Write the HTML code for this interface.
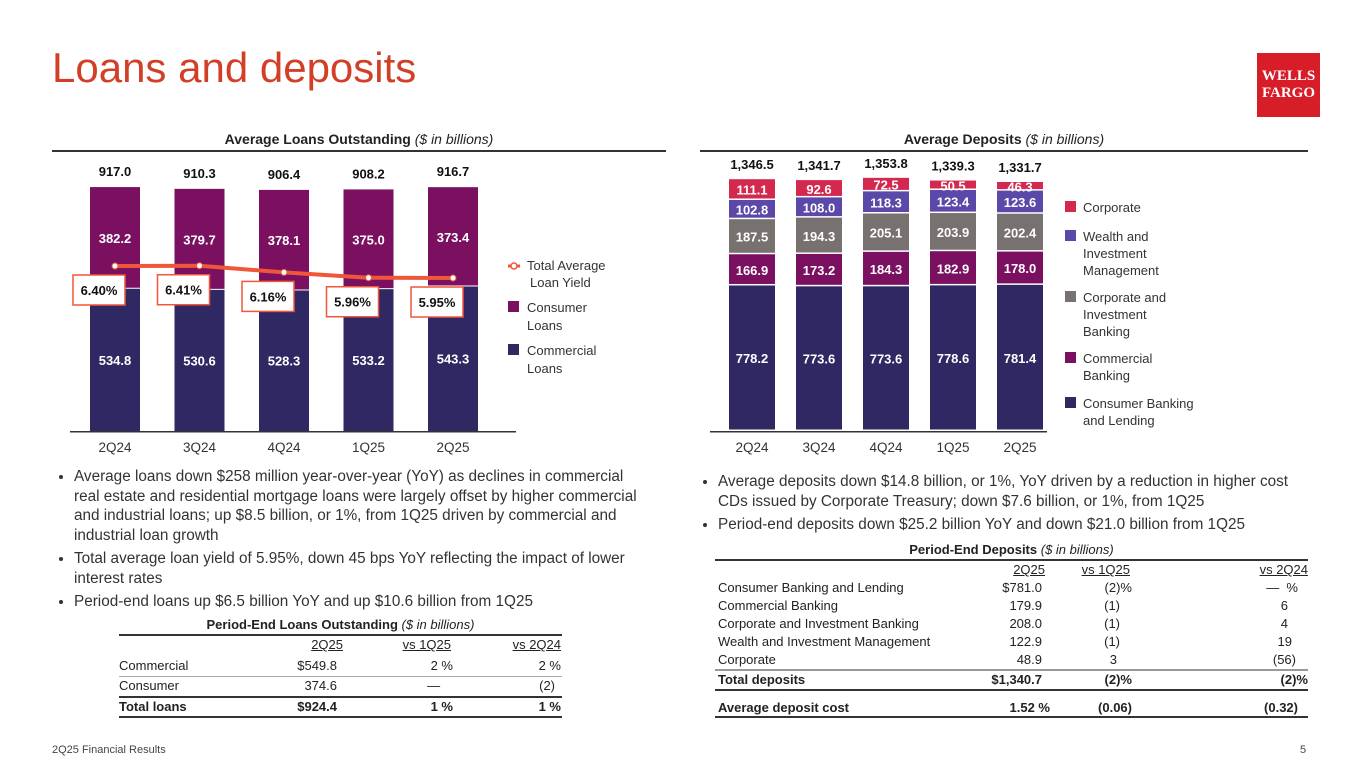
<!DOCTYPE html>
<html><head><meta charset="utf-8">
<style>
body{margin:0;width:1365px;height:768px;background:#fff;position:relative;overflow:hidden;font-family:"Liberation Sans",sans-serif;color:#222}
.a{position:absolute;white-space:nowrap}
.r{text-align:right}
.b{font-weight:bold}
.c{text-align:center}
.ln{position:absolute;background:#333}
.bul{position:absolute;font-size:15.3px;line-height:19.5px;color:#333;white-space:nowrap}
.bul li{margin:0 0 4px 0;padding-left:0}
.bul ul{margin:0;padding-left:18px}
.t{font-size:13px;color:#222}
</style></head><body>
<div class="a" style="left:52px;top:44px;font-size:42px;color:#d23f26">Loans and deposits</div>
<div class="a" style="left:1257px;top:53px;width:63px;height:64px;background:#d71e28;color:#fff;font-family:'Liberation Serif',serif;font-weight:bold;font-size:15px;line-height:17px;text-align:center;padding-top:15px;box-sizing:border-box">WELLS<br>FARGO</div>

<div class="a b c" style="left:52px;top:131px;width:614px;font-size:14px">Average Loans Outstanding <i style="font-weight:normal">($ in billions)</i></div>
<div class="ln" style="left:52px;top:150px;width:614px;height:2px"></div>
<div class="a b c" style="left:700px;top:131px;width:608px;font-size:14px">Average Deposits <i style="font-weight:normal">($ in billions)</i></div>
<div class="ln" style="left:700px;top:150px;width:608px;height:2px"></div>

<svg class="a" style="left:0;top:0" width="1365" height="768" id="svg"></svg>

<div class="bul" style="left:56px;top:467px;width:610px"><ul>
<li>Average loans down $258 million year-over-year (YoY) as declines in commercial<br>real estate and residential mortgage loans were largely offset by higher commercial<br>and industrial loans; up $8.5 billion, or 1%, from 1Q25 driven by commercial and<br>industrial loan growth</li>
<li>Total average loan yield of 5.95%, down 45 bps YoY reflecting the impact of lower<br>interest rates</li>
<li>Period-end loans up $6.5 billion YoY and up $10.6 billion from 1Q25</li></ul></div>
<div class="bul" style="left:700px;top:472px;width:620px"><ul>
<li>Average deposits down $14.8 billion, or 1%, YoY driven by a reduction in higher cost<br>CDs issued by Corporate Treasury; down $7.6 billion, or 1%, from 1Q25</li>
<li>Period-end deposits down $25.2 billion YoY and down $21.0 billion from 1Q25</li></ul></div>

<!-- Loans table -->
<div class="t">
<div class="a b c" style="left:119px;top:617px;width:443px">Period-End Loans Outstanding <i style="font-weight:normal">($ in billions)</i></div>
<div class="ln" style="left:119px;top:634px;width:443px;height:2px"></div>
<div class="a r" style="left:243px;top:637px;width:100px;text-decoration:underline">2Q25</div>
<div class="a r" style="left:351px;top:637px;width:100px;text-decoration:underline">vs 1Q25</div>
<div class="a r" style="left:461px;top:637px;width:100px;text-decoration:underline">vs 2Q24</div>
<div class="a" style="left:119px;top:658px">Commercial</div><div class="a r" style="left:237px;top:658px;width:100px">$549.8</div><div class="a r" style="left:353px;top:658px;width:100px">2 %</div><div class="a r" style="left:461px;top:658px;width:100px">2 %</div>
<div class="ln" style="left:119px;top:676px;width:443px;height:1px;background:#aaa"></div>
<div class="a" style="left:119px;top:678px">Consumer</div><div class="a r" style="left:237px;top:678px;width:100px">374.6</div><div class="a r" style="left:351px;top:678px;width:100px">— &nbsp;&nbsp;</div><div class="a r" style="left:455px;top:678px;width:100px">(2)</div>
<div class="ln" style="left:119px;top:696px;width:443px;height:2px"></div>
<div class="a b" style="left:119px;top:699px">Total loans</div><div class="a r b" style="left:237px;top:699px;width:100px">$924.4</div><div class="a r b" style="left:353px;top:699px;width:100px">1 %</div><div class="a r b" style="left:461px;top:699px;width:100px">1 %</div>
<div class="ln" style="left:119px;top:716px;width:443px;height:2px"></div>
</div>

<!-- Deposits table -->
<div class="t">
<div class="a b c" style="left:715px;top:542px;width:593px">Period-End Deposits <i style="font-weight:normal">($ in billions)</i></div>
<div class="ln" style="left:715px;top:559px;width:593px;height:2px"></div>
<div class="a r" style="left:945px;top:562px;width:100px;text-decoration:underline">2Q25</div>
<div class="a r" style="left:1030px;top:562px;width:100px;text-decoration:underline">vs 1Q25</div>
<div class="a r" style="left:1208px;top:562px;width:100px;text-decoration:underline">vs 2Q24</div>
<div class="a" style="left:718px;top:580px">Consumer Banking and Lending</div><div class="a r" style="left:942px;top:580px;width:100px">$781.0</div><div class="a r" style="left:1032px;top:580px;width:100px">(2)%</div><div class="a r" style="left:1198px;top:580px;width:100px">— &nbsp;%</div>
<div class="a" style="left:718px;top:598px">Commercial Banking</div><div class="a r" style="left:942px;top:598px;width:100px">179.9</div><div class="a r" style="left:1020px;top:598px;width:100px">(1)</div><div class="a r" style="left:1188px;top:598px;width:100px">6</div>
<div class="a" style="left:718px;top:616px">Corporate and Investment Banking</div><div class="a r" style="left:942px;top:616px;width:100px">208.0</div><div class="a r" style="left:1020px;top:616px;width:100px">(1)</div><div class="a r" style="left:1188px;top:616px;width:100px">4</div>
<div class="a" style="left:718px;top:634px">Wealth and Investment Management</div><div class="a r" style="left:942px;top:634px;width:100px">122.9</div><div class="a r" style="left:1020px;top:634px;width:100px">(1)</div><div class="a r" style="left:1192px;top:634px;width:100px">19</div>
<div class="a" style="left:718px;top:652px">Corporate</div><div class="a r" style="left:942px;top:652px;width:100px">48.9</div><div class="a r" style="left:1017px;top:652px;width:100px">3</div><div class="a r" style="left:1196px;top:652px;width:100px">(56)</div>
<div class="ln" style="left:715px;top:669px;width:593px;height:2px;background:#999"></div>
<div class="a b" style="left:718px;top:672px">Total deposits</div><div class="a r b" style="left:942px;top:672px;width:100px">$1,340.7</div><div class="a r b" style="left:1032px;top:672px;width:100px">(2)%</div><div class="a r b" style="left:1208px;top:672px;width:100px">(2)%</div>
<div class="ln" style="left:715px;top:689px;width:593px;height:2px"></div>
<div class="a b" style="left:718px;top:700px">Average deposit cost</div><div class="a r b" style="left:950px;top:700px;width:100px">1.52 %</div><div class="a r b" style="left:1032px;top:700px;width:100px">(0.06)</div><div class="a r b" style="left:1198px;top:700px;width:100px">(0.32)</div>
<div class="ln" style="left:715px;top:716px;width:593px;height:2px"></div>
</div>

<div class="a" style="left:52px;top:744px;font-size:11px;color:#444">2Q25 Financial Results</div>
<div class="a" style="left:1300px;top:744px;font-size:11px;color:#444">5</div>

<script>
const quarters=["2Q24","3Q24","4Q24","1Q25","2Q25"];
const loanCommercial=[534.8,530.6,528.3,533.2,543.3];
const loanConsumer=[382.2,379.7,378.1,375.0,373.4];
const loanTotals=["917.0","910.3","906.4","908.2","916.7"];
const loanYield=[6.40,6.41,6.16,5.96,5.95];
const depCBL=[778.2,773.6,773.6,778.6,781.4];
const depCommercial=[166.9,173.2,184.3,182.9,178.0];
const depCIB=[187.5,194.3,205.1,203.9,202.4];
const depWIM=[102.8,108.0,118.3,123.4,123.6];
const depCorporate=[111.1,92.6,72.5,50.5,46.3];
const depTotals=["1,346.5","1,341.7","1,353.8","1,339.3","1,331.7"];

const NS="http://www.w3.org/2000/svg";
const svg=document.getElementById('svg');
function mk(tag,attrs,parent){const e=document.createElementNS(NS,tag);for(const k in attrs)e.setAttribute(k,attrs[k]);(parent||svg).appendChild(e);return e;}
function txt(x,y,s,attrs){const e=mk('text',Object.assign({x:x,y:y,'text-anchor':'middle','font-family':'Liberation Sans, sans-serif','font-size':13},attrs||{}));e.textContent=s;return e;}

const lBase=431, lScale=0.266, lX0=115, lStep=84.5, lW=50;
const lx=i=>lX0+i*lStep;
const ly=v=>lBase-v*lScale;
const yy=v=>266-(v-6.40)*26.7;
const CNAVY="#2f2862", CPURP="#7b1060";
quarters.forEach((q,i)=>{
  const x=lx(i)-lW/2;
  let r=mk('rect',{x:x,y:ly(loanCommercial[i]),width:lW,height:loanCommercial[i]*lScale,fill:CNAVY});
  
  
  let r2=mk('rect',{x:x,y:ly(loanCommercial[i]+loanConsumer[i]),width:lW,height:loanConsumer[i]*lScale-1,fill:CPURP});
  
  
  txt(lx(i),ly(loanCommercial[i]/2)+5,loanCommercial[i].toFixed(1),{fill:'#fff','font-weight':'bold'});
  txt(lx(i),ly(loanCommercial[i]+loanConsumer[i]/2)+5,loanConsumer[i].toFixed(1),{fill:'#fff','font-weight':'bold'});
  txt(lx(i),ly(loanCommercial[i]+loanConsumer[i])-11,loanTotals[i],{fill:'#111','font-weight':'bold'});
  txt(lx(i),452,q,{fill:'#333','font-size':13.5});
});
mk('rect',{x:70,y:lBase,width:446,height:1.5,fill:'#333'});
let pts=loanYield.map((v,i)=>lx(i)+','+yy(v)).join(' ');
let pl=mk('polyline',{points:pts,fill:'none',stroke:'#f0563a','stroke-width':4});


loanYield.forEach((v,i)=>{
  let c=mk('circle',{cx:lx(i),cy:yy(v),r:3,fill:'#fff',stroke:'#f0563a','stroke-width':1});
  
  
  const bx=lx(i)-42, by=yy(v)+9;
  let b=mk('rect',{x:bx,y:by,width:52,height:30,fill:'#fff',stroke:'#f0563a','stroke-width':1.5});
  
  
  txt(bx+26,by+20,v.toFixed(2)+'%',{fill:'#111','font-weight':'bold'});
});
mk('line',{x1:508,y1:266,x2:520,y2:266,stroke:'#f0563a','stroke-width':3});
mk('circle',{cx:514,cy:266,r:3,fill:'#fff',stroke:'#f0563a','stroke-width':1.5});
txt(527,270,'Total Average',{'text-anchor':'start',fill:'#333'});
txt(530,287,'Loan Yield',{'text-anchor':'start',fill:'#333'});
mk('rect',{x:508,y:301,width:11,height:11,fill:CPURP});
txt(527,312,'Consumer',{'text-anchor':'start',fill:'#333'});
txt(527,330,'Loans',{'text-anchor':'start',fill:'#333'});
mk('rect',{x:508,y:344,width:11,height:11,fill:CNAVY});
txt(527,355,'Commercial',{'text-anchor':'start',fill:'#333'});
txt(527,373,'Loans',{'text-anchor':'start',fill:'#333'});

const dBase=431, dScale=0.187, dX0=752, dStep=67, dW=46;
const dx=i=>dX0+i*dStep;
const dy=v=>dBase-v*dScale;
const series=[["consumer-banking",depCBL,"#2f2862"],["commercial-banking",depCommercial,"#7b1060"],["cib",depCIB,"#777170"],["wim",depWIM,"#5b48a8"],["corporate",depCorporate,"#d4294f"]];
quarters.forEach((q,i)=>{
  let acc=0;
  series.forEach(([nm,arr,col])=>{
    const v=arr[i];
    let r=mk('rect',{x:dx(i)-dW/2,y:dy(acc+v),width:dW,height:v*dScale-1.5,fill:col});
    
    
    txt(dx(i),dy(acc+v/2)+5,v.toFixed(1),{fill:'#fff','font-weight':'bold'});
    acc+=v;
  });
  txt(dx(i),dy(acc)-10,depTotals[i],{fill:'#111','font-weight':'bold'});
  txt(dx(i),452,q,{fill:'#333','font-size':13.5});
});
mk('rect',{x:710,y:dBase,width:337,height:1.5,fill:'#333'});
const leg=[["#d4294f",["Corporate"],200],["#5b48a8",["Wealth and"," Investment","Management"],229],["#777170",["Corporate and","Investment","Banking"],290],["#7b1060",["Commercial","Banking"],351],["#2f2862",["Consumer Banking","and Lending"],396]];
leg.forEach(([col,lines,y])=>{
  let r=mk('rect',{x:1065,y:y+1,width:11,height:11,fill:col});
  
  
  lines.forEach((s,k)=>txt(1083,y+12+k*17,s,{'text-anchor':'start',fill:'#333'}));
});
</script>
</body></html>
